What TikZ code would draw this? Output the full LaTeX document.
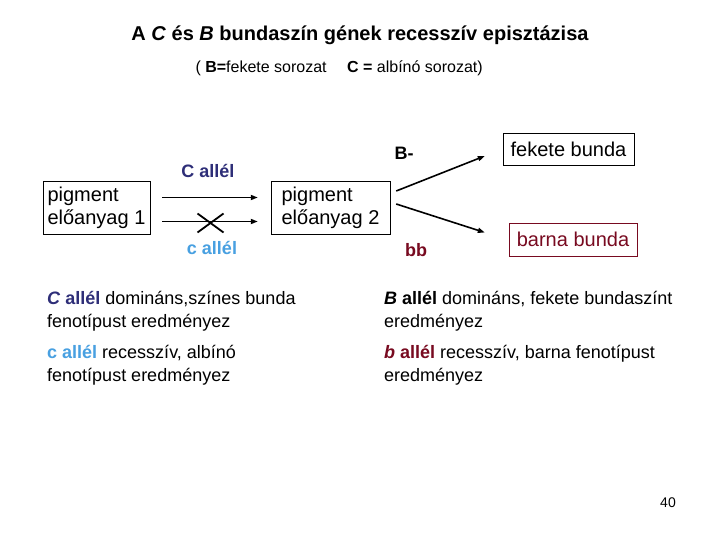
\documentclass[tikz,border=0pt]{standalone}
\usepackage{fontspec}
\setmainfont{Liberation Sans}
\usetikzlibrary{arrows.meta, positioning, calc}

\definecolor{callel}{RGB}{46,46,120}
\definecolor{lowcallel}{RGB}{72,160,225}
\definecolor{browncol}{RGB}{120,10,32}

\tikzset{
  box/.style={draw, align=left, inner sep=0pt, font=\fontsize{20}{23}\selectfont},
  arr/.style={-{Triangle[length=7pt,width=5pt]}, line width=1.6pt},
  label/.style={font=\fontsize{18}{21}\selectfont\bfseries},
  note/.style={anchor=west, align=left, inner sep=0pt, font=\fontsize{18}{23}\selectfont}
}

\begin{document}
\begin{tikzpicture}[x=1pt, y=-1pt]
\useasboundingbox[fill=white] (0,0) rectangle (720,540);

% title
\node[font=\fontsize{20}{23}\selectfont\bfseries] (title) at (360,35)
  {A \textit{C} és \textit{B} bundaszín gének recesszív episztázisa};
\node[anchor=west, font=\fontsize{16}{19}\selectfont] (sub) at (192,68)
  {( \textbf{B=}fekete sorozat\quad\ \textbf{C =} albínó sorozat)};

% boxes
\node[box, minimum width=107, minimum height=53] (pe1) at (96.5,207.5) {pigment\\előanyag 1};
\node[box, minimum width=119, minimum height=53] (pe2) at (330.5,207.5) {pigment\\előanyag 2};
\node[box, minimum width=131, minimum height=32] (fekete) at (568.5,149) {fekete bunda};
\node[box, draw=browncol, text=browncol, minimum width=128, minimum height=33] (barna) at (573,239.5) {barna bunda};

% alleles
\node[label, text=callel] (Cal) at (208,171) {C allél};
\node[label, text=lowcallel] (cal) at (212,248) {c allél};
\node[label] (Bdash) at (404,153) {B-};
\node[label, text=browncol] (bb) at (416,250) {bb};

% arrows
\draw[arr, shorten <=12pt, shorten >=13pt] ([yshift=10pt]pe1.east) -- ([yshift=10pt]pe2.west);
\draw[arr, shorten <=12pt, shorten >=13pt] ([yshift=-14pt]pe1.east) -- coordinate[pos=0.5] (blocked) ([yshift=-14pt]pe2.west);
\draw[line width=1.8pt] ($(blocked)+(-13,-8)$) -- ($(blocked)+(13,11)$)
                        ($(blocked)+(-13,11)$) -- ($(blocked)+(13,-8)$);
\draw[arr] ([xshift=6pt,yshift=16.5pt]pe2.east) -- ($(fekete.west)+(-18,7)$);
\draw[arr] ([xshift=6pt,yshift=3.5pt]pe2.east) -- ($(barna.west)+(-24,-7)$);

% explanations
\node[note] (n1) at (47,311.5) {\textcolor{callel}{\textbf{\textit{C} allél}} domináns,színes bunda\\fenotípust eredményez};
\node[note] (n2) at (47,365.5) {\textcolor{lowcallel}{\textbf{c allél}} recesszív, albínó\\fenotípust eredményez};
\node[note] (n3) at (384,311.5) {\textbf{\textit{B} allél} domináns, fekete bundaszínt\\eredményez};
\node[note] (n4) at (384,365.5) {\textcolor{browncol}{\textbf{\textit{b} allél}} recesszív, barna fenotípust\\eredményez};

% page number
\node[font=\fontsize{14}{16}\selectfont] (page) at (668,503) {40};
\end{tikzpicture}
\end{document}
